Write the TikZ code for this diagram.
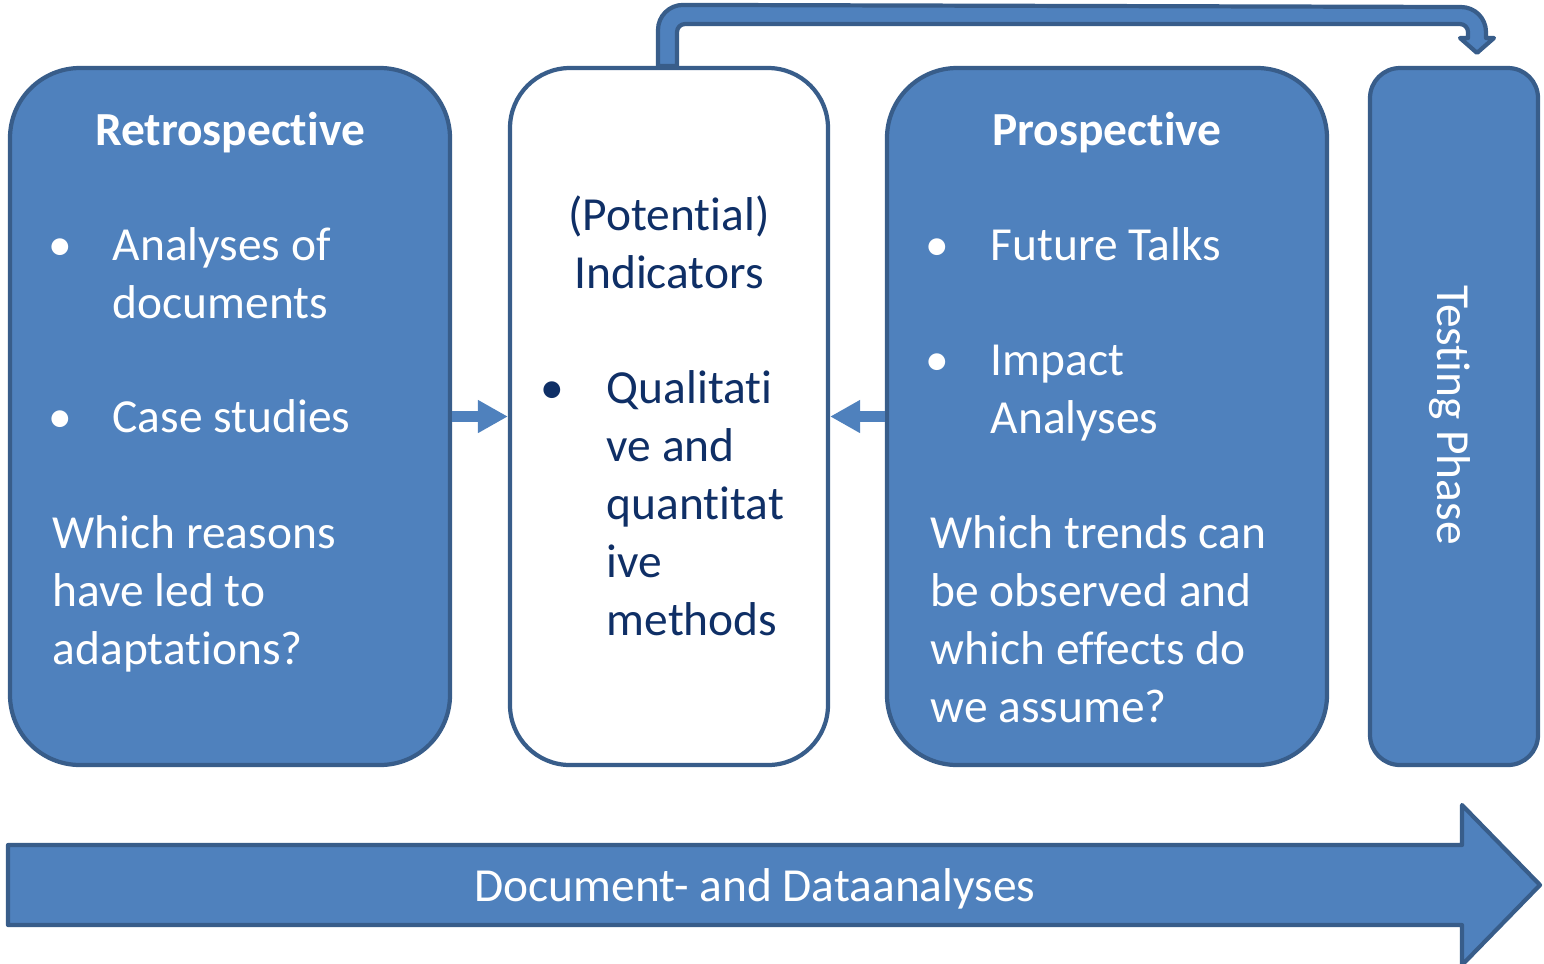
\documentclass[tikz,border=0pt]{standalone}
\usepackage{fontspec}
\setmainfont{Carlito}[Ligatures=NoCommon]
\usepackage{tikz}
\usetikzlibrary{calc}
\usetikzlibrary{arrows.meta}
\definecolor{panel}{HTML}{4F81BD}
\definecolor{edge}{HTML}{385D8A}
\definecolor{ink}{HTML}{0F2F66}
\tikzset{phase/.style={draw=edge, fill=panel, line width=1.2pt, inner sep=0, rounded corners=0.7cm, minimum width=4.4cm, minimum height=6.97cm}}
\tikzset{label/.style={text=white, inner sep=0, align=left, font=\fontsize{13.5}{16.5}\selectfont}}
\tikzset{blockarrow/.style={draw=edge, fill=panel, line width=1.2pt, line join=round}}
\tikzset{push/.style={draw=panel, line width=0.11cm, -{Triangle[length=0.30cm, width=0.31cm]}}}

\begin{document}
\begin{tikzpicture}
    \useasboundingbox (0,0) rectangle (15.44,-9.63);

    % long arrow along the bottom
    \draw[blockarrow] (0.08,-8.45) -- (14.62,-8.45) -- (14.62,-8.05) -- (15.40,-8.85)
        -- (14.62,-9.65) -- (14.62,-9.25) -- (0.08,-9.25) -- cycle;
    \node[label, anchor=base] at (7.55,-9.01) (flow) {Document- and Dataanalyses};

    \node[phase] at (2.30,-4.165) (retro) {};
    \node[phase, fill=white, minimum width=3.18cm, rounded corners=0.6cm] at (6.69,-4.165) (indic) {};
    \node[phase] at (11.07,-4.165) (prosp) {};
    \node[phase, minimum width=1.68cm, rounded corners=0.3cm] at (14.54,-4.165) (test) {};

    % bent arrow over the top
    \draw[blockarrow] ($(indic.north)+(-0.11,0)$) -- ++(0,0.36)
        arc[start angle=180, end angle=90, radius=0.25] -- (14.61,-0.07)
        arc[start angle=90, end angle=0, radius=0.25] -- (14.86,-0.38)
        -- ++(0.08,0) -- ($(test.north)+(0.23,0.13)$) -- (14.60,-0.38) -- (14.68,-0.38) -- (14.68,-0.32)
        arc[start angle=0, end angle=90, radius=0.08] -- (6.85,-0.24)
        arc[start angle=90, end angle=180, radius=0.08] -- ($(indic.north)+(0.08,0)$) -- cycle;

    \draw[push] (retro.east) -- (indic.west);
    \draw[push] (prosp.west) -- (indic.east);

    % Retrospective (multi-line nodes sit on their last baseline)
    \node[label, anchor=base, font=\fontsize{13.5}{16.5}\selectfont\bfseries] at (2.30,-1.45) (retro-title) {Retrospective};
    \node[label, anchor=base] at (0.60,-2.60) (retro-dot1) {•};
    \node[label, anchor=base west] at (1.12,-3.18) (retro-b1) {Analyses of\\documents};
    \node[label, anchor=base] at (0.60,-4.32) (retro-dot2) {•};
    \node[label, anchor=base west] at (1.12,-4.32) (retro-b2) {Case studies};
    \node[label, anchor=base west] at (0.52,-6.64) (retro-q) {Which reasons\\have led to\\adaptations?};

    % Indicators
    \node[label, text=ink, align=center, anchor=base] at (6.69,-2.88) (indic-title) {(Potential)\\Indicators};
    \node[label, text=ink, anchor=base] at (5.52,-4.03) (indic-dot) {•};
    \node[label, text=ink, anchor=base west] at (6.06,-6.35) (indic-b1) {Qualitati\\ve and\\quantitat\\ive\\methods};

    % Prospective
    \node[label, anchor=base, font=\fontsize{13.5}{16.5}\selectfont\bfseries] at (11.07,-1.45) (prosp-title) {Prospective};
    \node[label, anchor=base] at (9.37,-2.60) (prosp-dot1) {•};
    \node[label, anchor=base west] at (9.90,-2.60) (prosp-b1) {Future Talks};
    \node[label, anchor=base] at (9.37,-3.75) (prosp-dot2) {•};
    \node[label, anchor=base west] at (9.90,-4.33) (prosp-b2) {Impact\\Analyses};
    \node[label, anchor=base west] at (9.30,-7.22) (prosp-q) {Which trends can\\be observed and\\which effects do\\we assume?};

    \node[label, rotate=-90] at (14.50,-4.15) (test-text) {Testing Phase};
\end{tikzpicture}
\end{document}
